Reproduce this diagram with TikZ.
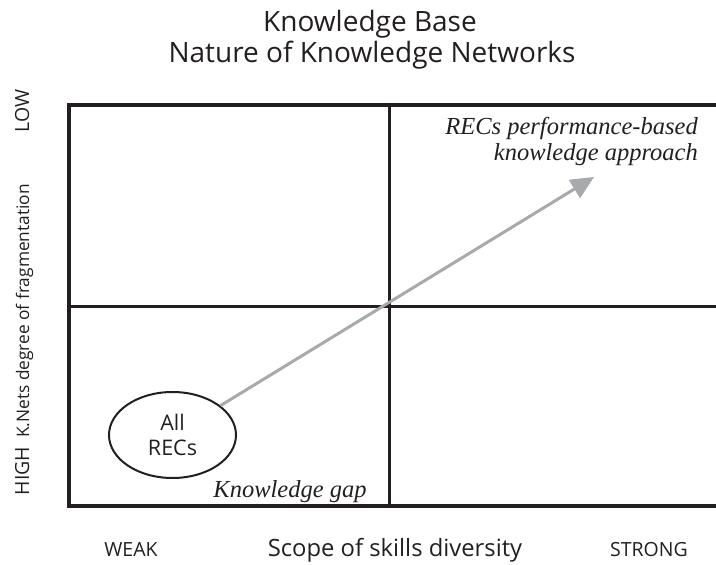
\documentclass[tikz,border=0pt]{standalone}
\usepackage{fontspec}
\setmainfont{Liberation Serif}
\newfontfamily\sansf{Open Sans}
\usetikzlibrary{arrows.meta,shapes.geometric}
\definecolor{framegray}{HTML}{231F20}
\definecolor{arrowgray}{HTML}{A7A9AC}
\tikzset{
  frameline/.style={draw=framegray, line width=3.4pt, line join=miter},
  midline/.style={draw=framegray, line width=3pt},
  sanstext/.style={font=\sansf\fontsize{23.8}{28}\selectfont, text=framegray, inner sep=0pt},
  smalltext/.style={font=\sansf\fontsize{19.5}{23}\selectfont, text=framegray, inner sep=0pt},
  vertsmall/.style={font=\sansf\fontsize{17.3}{20}\selectfont, text=framegray, inner sep=0pt},
  titletext/.style={font=\sansf\fontsize{28}{33}\selectfont, text=framegray, inner sep=0pt},
  serifit/.style={font=\itshape\fontsize{24.5}{28}\selectfont, text=framegray, inner sep=0pt},
  ellnode/.style={draw=framegray, line width=2pt, ellipse, minimum width=127pt, minimum height=86pt, inner sep=0pt, font=\sansf\fontsize{21.5}{25}\selectfont, align=center, text=framegray},
  bigarrow/.style={draw=arrowgray, line width=3pt, -{Triangle[length=23pt,width=21pt]}}
}
\begin{document}
\begin{tikzpicture}[x=1pt,y=-1pt]
\useasboundingbox (0,0) rectangle (716,565);
% title
\node[titletext, anchor=base] (t1) at (370,31) {Knowledge Base};
\node[titletext, anchor=base] (t2) at (372,62) {Nature of Knowledge Networks};
% frame and cross
\draw[frameline] (716,105) -- (69,105) -- (69,506) -- (716,506);
\draw[midline] (389,105) -- (389,506);
\draw[midline] (69,306) -- (716,306);
% quadrant labels
\node[serifit, anchor=base east] (p1) at (698,134) {RECs performance-based};
\node[serifit, anchor=base east] (p2) at (698,160) {knowledge approach};
\node[serifit, anchor=base] (gap) at (290,497) {Knowledge gap};
% ellipse and arrow
\node[ellnode] (all) at (172.5,435) {All\\RECs};
\coordinate (tip) at (594,177);
\draw[bigarrow] (all) -- (tip);
% axis labels
\node[smalltext, anchor=base] (weak) at (131,556) {WEAK};
\node[sanstext, anchor=base] (scope) at (395,556) {Scope of skills diversity};
\node[smalltext, anchor=base] (strong) at (649,556) {STRONG};
\node[smalltext, rotate=90, anchor=base] (high) at (29,471) {HIGH};
\node[vertsmall, rotate=90, anchor=base] (frag) at (29,311) {K.Nets degree of fragmentation};
\node[smalltext, rotate=90, anchor=base] (low) at (29,111) {LOW};
\end{tikzpicture}
\end{document}
